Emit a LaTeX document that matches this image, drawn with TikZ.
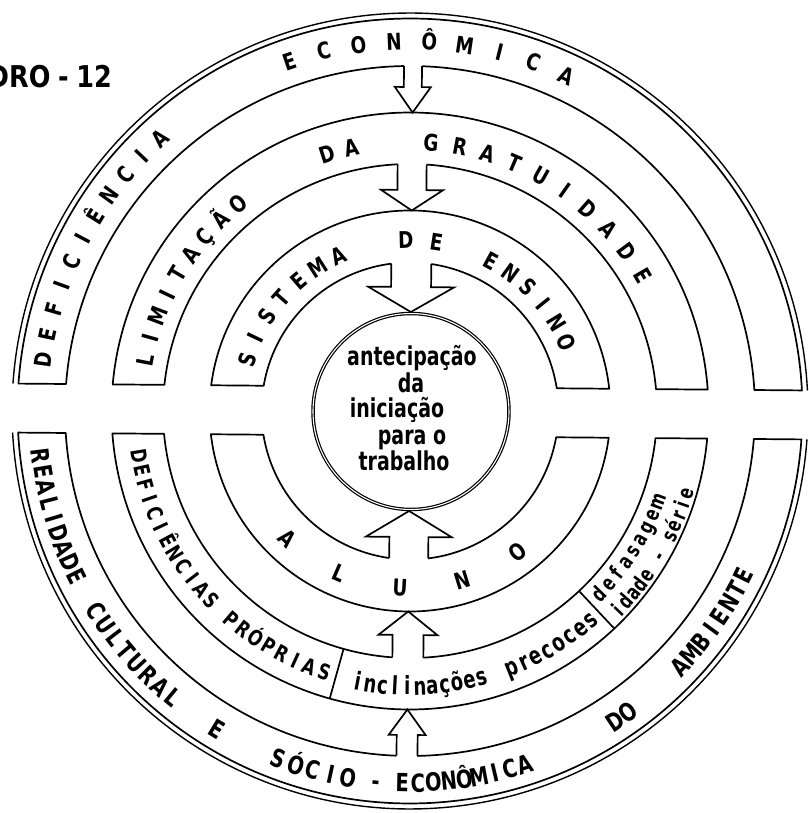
\documentclass[tikz,border=0pt]{standalone}
\usepackage{fontspec}
\setmainfont{DejaVu Sans}
\tikzset{
  ringbox/.style={draw=black, line width=1.7pt, fill=white, line join=round},
  arrline/.style={draw=black, line width=1.7pt, line join=miter},
  outerline/.style={draw=black, line width=1.4pt},
  capsA/.style={font=\bfseries\fontsize{23}{23}\selectfont, inner sep=0pt, xscale=0.8},
  capsB/.style={font=\bfseries\fontsize{25}{25}\selectfont, inner sep=0pt, xscale=0.78},
  capsC/.style={font=\bfseries\fontsize{21.5}{21.5}\selectfont, inner sep=0pt, xscale=0.78},
  lowA/.style={font=\bfseries\fontsize{25}{25}\selectfont, inner sep=0pt, xscale=0.72},
  lowB/.style={font=\bfseries\fontsize{21.5}{21.5}\selectfont, inner sep=0pt, xscale=0.72},
  ctext/.style={font=\bfseries\fontsize{26}{26}\selectfont, inner sep=0pt, xscale=0.73, anchor=base},
  titletext/.style={font=\bfseries\fontsize{30}{30}\selectfont, inner sep=0pt, xscale=0.85, anchor=base east},
}
% letters along upper arcs (tops outward, angle decreasing)
\newcommand\UpLetters[6]{%
  \foreach \myc [count=\ii from 0] in {#6}{%
    \pgfmathsetmacro\myang{#2-\ii*#3}%
    \pgfmathsetmacro\myrot{\myang-90}%
    \node[anchor=base, rotate=\myrot, #5] (#1\ii) at (\myang:#4) {\myc};%
  }%
}
% letters along lower arcs (tops inward, angle increasing)
\newcommand\LowLetters[6]{%
  \foreach \myc [count=\ii from 0] in {#6}{%
    \pgfmathsetmacro\myang{#2+\ii*#3}%
    \pgfmathsetmacro\myrot{\myang+90}%
    \node[anchor=base, rotate=\myrot, #5] (#1\ii) at (\myang:#4) {\myc};%
  }%
}
\newcommand\UpRing[3]{%
  \pgfmathsetmacro\ao{asin(#3/#2)}\pgfmathsetmacro\bo{180-\ao}%
  \pgfmathsetmacro\ai{asin(#3/#1)}\pgfmathsetmacro\bi{180-\ai}%
  \draw[ringbox] (\ao:#2) arc[start angle=\ao, end angle=\bo, radius=#2pt] -- (\bi:#1) arc[start angle=\bi, end angle=\ai, radius=#1pt] -- cycle;%
}
\newcommand\LowRing[3]{%
  \pgfmathsetmacro\ao{180+asin(#3/#2)}\pgfmathsetmacro\bo{360-asin(#3/#2)}%
  \pgfmathsetmacro\ai{180+asin(#3/#1)}\pgfmathsetmacro\bi{360-asin(#3/#1)}%
  \draw[ringbox] (\ao:#2) arc[start angle=\ao, end angle=\bo, radius=#2pt] -- (\bi:#1) arc[start angle=\bi, end angle=\ai, radius=#1pt] -- cycle;%
}
% block arrow pointing down: source radius, shaft half width, head half width, head base y, tip y
\newcommand\DownArr[5]{%
  \pgfmathsetmacro\sa{asin(#2/#1)}%
  \pgfmathsetmacro\la{90+\sa}\pgfmathsetmacro\ra{90-\sa}%
  \fill[white] ({-#2},{#1+4}) rectangle ({#2},{#4});%
  \fill[white] ({-#3},{#4}) -- (0,{#5}) -- ({#3},{#4}) -- cycle;%
  \draw[arrline] (\la:#1) -- ({-#2},{#4}) -- ({-#3},{#4}) -- (0,{#5}) -- ({#3},{#4}) -- ({#2},{#4}) -- (\ra:#1);%
}
% block arrow pointing up
\newcommand\UpArr[5]{%
  \pgfmathsetmacro\sa{asin(#2/#1)}%
  \pgfmathsetmacro\la{270-\sa}\pgfmathsetmacro\ra{270+\sa}%
  \fill[white] ({-#2},{-#1-4}) rectangle ({#2},{#4});%
  \fill[white] ({-#3},{#4}) -- (0,{#5}) -- ({#3},{#4}) -- cycle;%
  \draw[arrline] (\la:#1) -- ({-#2},{#4}) -- ({-#3},{#4}) -- (0,{#5}) -- ({#3},{#4}) -- ({#2},{#4}) -- (\ra:#1);%
}
\begin{document}
\begin{tikzpicture}[x=1pt, y=1pt]
\useasboundingbox (-410,-402) rectangle (398,411);
\fill[white] (-410,-402) rectangle (398,411);

\begin{scope}[rotate=-0.5]
  % upper half rings
  \UpRing{345}{392.5}{24}
  \UpRing{247}{298.5}{24}
  \UpRing{148.5}{200.5}{24}
  % lower half rings
  \LowRing{345}{392.5}{25}
  \LowRing{247}{298.5}{25}
  \LowRing{148.5}{200.5}{25}
  % outer second line
  \pgfmathsetmacro\oa{asin(24/398)}\pgfmathsetmacro\ob{180-\oa}
  \draw[outerline] (\oa:398) arc[start angle=\oa, end angle=\ob, radius=398pt];
  \pgfmathsetmacro\oc{180+asin(25/398)}\pgfmathsetmacro\od{360-asin(25/398)}
  \draw[outerline] (\oc:398) arc[start angle=\oc, end angle=\od, radius=398pt];
  % central circle
  \draw[line width=1.2pt, double=white, double distance=1.1pt] (1,-0.5) circle[radius=98pt];
  % arrows
  \DownArr{345}{9}{18}{324}{298.5}
  \DownArr{247}{14.5}{31}{221}{200.5}
  \DownArr{148.5}{20}{43}{124}{99}
  \UpArr{345}{10.5}{18.5}{-324}{-298.5}
  \UpArr{247}{15.5}{29.5}{-224}{-200.5}
  \UpArr{148.5}{19.5}{43}{-126}{-100}
\end{scope}

% dividers in lower middle ring
\draw[ringbox] (254.4:247) -- (254.4:298.5);
\draw[ringbox] (-46.8:247) -- (-46.8:298.5);

% upper ring 1
\UpLetters{defa}{172}{3.95}{361.6}{capsA}{D,E,F,I,C,I,Ê,N,C,I,A}
\UpLetters{econa}{109}{5.5}{361.6}{capsA}{E,C,O,N,Ô,M,I,C,A}
% upper ring 2
\UpLetters{limb}{169.2}{4.93}{261}{capsA}{L,I,M,I,T,A,Ç,Ã,O}
\UpLetters{dab}{107.8}{5.2}{261}{capsA}{D,A}
\UpLetters{grab}{85.5}{6.15}{261}{capsA}{G,R,A,T,U,I,D,A,D,E}
% upper ring 3
\UpLetters{sisc}{162.5}{7.97}{162.5}{capsA}{S,I,S,T,E,M,A}
\UpLetters{dec}{91.4}{10.3}{162.5}{capsA}{D,E}
\UpLetters{ensc}{61.6}{7.6}{162.5}{capsA}{E,N,S,I,N,O}
% lower ring 3
\LowLetters{alu}{226.2}{20.3}{185.4}{capsA}{A,L,U,N,O}
% lower ring 1
\LowLetters{real}{187}{2.43}{381}{capsB}{R,E,A,L,I,D,A,D,E}
\LowLetters{cult}{212.5}{2.56}{381}{capsB}{C,U,L,T,U,R,A,L}
\LowLetters{ee}{238.8}{2.5}{381}{capsB}{E}
\LowLetters{soc}{249.3}{2.8}{381}{capsB}{S,Ó,C,I,O}
\LowLetters{hy}{264.7}{2.5}{381}{capsB}{-}
\LowLetters{ecol}{268.8}{2.4}{381}{capsB}{E,C,O,N,Ô,M,I,C,A}
\LowLetters{dol}{303.5}{2.4}{381}{capsB}{D,O}
\LowLetters{amb}{316.6}{2.46}{381}{capsB}{A,M,B,I,E,N,T,E}
% lower ring 2
\LowLetters{defp}{189.4}{3.12}{282.4}{capsC}{D,E,F,I,C,I,Ê,N,C,I,A,S}
\LowLetters{prop}{229.4}{3.2}{282.4}{capsC}{P,R,Ó,P,R,I,A,S}
\LowLetters{incl}{259.1}{2.59}{284}{lowA}{i,n,c,l,i,n,a,ç,õ,e,s}
\LowLetters{prec}{291.6}{2.74}{284}{lowA}{p,r,e,c,o,c,e,s}
\LowLetters{defs}{-44.1}{2.99}{270.5}{lowB}{d,e,f,a,s,a,g,e,m}
\LowLetters{idse}{-43.7}{2.25}{295.5}{lowB}{i,d,a,d,e,{},-,{},s,é,r,i,e}

% central text
\node[ctext] (c1) at (2,45.5) {antecipação};
\node[ctext] (c2) at (1,18.5) {da};
\node[ctext] (c3) at (-13,-6.5) {iniciação};
\node[ctext] (c4) at (2,-33.5) {para o};
\node[ctext] (c5) at (-6,-59.5) {trabalho};

% title (cut by the page edge)
\begin{scope}
  \clip (-410,-402) rectangle (398,411);
  \node[titletext] (title) at (-298,323) {QUADRO\hspace{9pt}-\hspace{9pt}12};
\end{scope}
\end{tikzpicture}
\end{document}
